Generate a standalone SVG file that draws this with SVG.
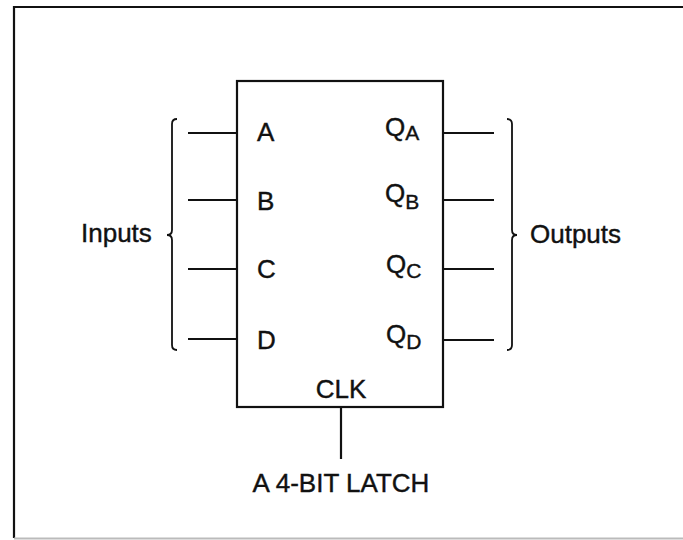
<svg xmlns="http://www.w3.org/2000/svg" width="683" height="540" viewBox="0 0 683 540">
<style>
text{font-family:"Liberation Sans",Arial,Helvetica,sans-serif;fill:#111;font-size:26px;stroke:#111;stroke-width:0.4}
.sub{font-size:21px}
.ln{stroke:#111;stroke-width:2.2;fill:none}
.br{stroke:#111;stroke-width:1.8;fill:none}
</style>
<rect width="683" height="540" fill="#fff"/>
<g id="frame">
<path class="ln" d="M683,7 H14 V538"/>
<path d="M14,538.5 H683" stroke="#bbb" stroke-width="2" fill="none"/>
</g>
<g id="latch">
<rect x="237" y="81" width="206" height="326" class="ln" stroke-width="2.5"/>
<text x="257" y="141">A</text>
<text x="257" y="210">B</text>
<text x="257" y="278">C</text>
<text x="257" y="349">D</text>
<text x="385" y="136">Q<tspan class="sub" dy="4">A</tspan></text>
<text x="385" y="202">Q<tspan class="sub" dy="7">B</tspan></text>
<text x="386" y="273">Q<tspan class="sub" dy="5">C</tspan></text>
<text x="386" y="343">Q<tspan class="sub" dy="6">D</tspan></text>
<text x="341" y="398" text-anchor="middle">CLK</text>
</g>
<g id="inputs-label">
<path class="br" d="M177,119 Q172,119 172,124 V230 Q172,235 167,235 Q172,235 172,240 V345 Q172,350 177,350"/>
<text x="81" y="242">Inputs</text>
</g>
<g id="outputs-label">
<path class="br" d="M507,119 Q512,119 512,124 V230 Q512,235 517,235 Q512,235 512,240 V345 Q512,350 507,350"/>
<text x="530" y="243">Outputs</text>
</g>
<g id="title">
<text x="341" y="492" text-anchor="middle">A 4-BIT LATCH</text>
</g>
<g id="connectors">
<line class="ln" x1="188" y1="133" x2="237" y2="133"/>
<line class="ln" x1="188" y1="200" x2="237" y2="200"/>
<line class="ln" x1="188" y1="269" x2="237" y2="269"/>
<line class="ln" x1="188" y1="339" x2="237" y2="339"/>
<line class="ln" x1="443" y1="133" x2="494" y2="133"/>
<line class="ln" x1="443" y1="200" x2="494" y2="200"/>
<line class="ln" x1="443" y1="269" x2="494" y2="269"/>
<line class="ln" x1="443" y1="340" x2="494" y2="340"/>
<line class="ln" x1="341" y1="407" x2="341" y2="459"/>
</g>
</svg>
